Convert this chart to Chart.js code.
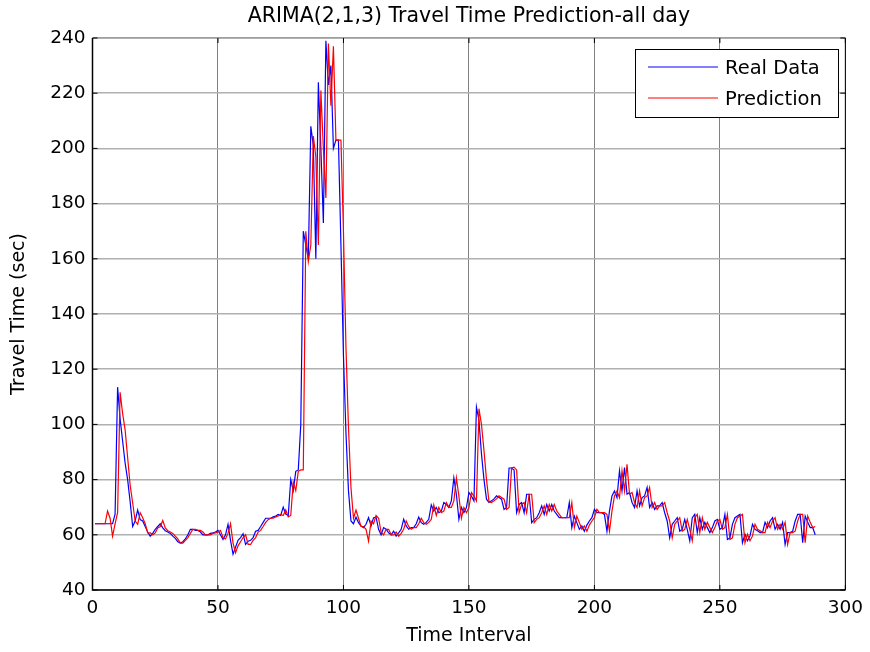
<!DOCTYPE html>
<html lang="en">
<head>
    <meta charset="UTF-8">
    <title>ARIMA(2,1,3) Travel Time Prediction</title>
    <style>
        body { margin: 0; background: #fff; }
    </style>
</head>
<body>
    <canvas id="myChart" width="870" height="652"></canvas>

    <script src="https://cdn.jsdelivr.net/npm/chart.js"></script>

    <script>
        // Travel time per 5-minute interval (288 per day)
        const realData = [
            64,64,64,64,64,64,64,64,67.5,113.5,
            102,94,86,80,72,63,65,69,65.5,65,
            63,61,59.5,60.5,62,63,64,62.5,61.5,61,
            60.5,59.5,58.7,57.5,57,57.5,58.5,60,62,62,
            61.6,61.6,61,60,60,60,60.5,60.7,61,61.6,
            60,58.3,60,63.8,58,53,55.5,58,59,60.4,
            56.5,57.7,58,59,61.3,61.6,63,64.5,66,66,
            66,66.5,66.8,67.4,67,70,67.5,67,80,76,
            83,83.5,100,170,165,160,208,201,160,224,
            200,173,239,223,230,200,203,203,165,125,
            97,76,65,64,66.4,64.4,63.2,62.6,63.8,66.2,
            63.2,66.2,66.4,62,60,62.6,62,60.7,60,61.3,
            59.5,60.7,62,65.6,63.2,62,62.6,62.6,64,66.4,
            64.4,63.8,64.5,65.6,70.8,68.6,69.9,68,68.6,71.7,
            71,69.9,72.3,80.6,74.7,65.6,69.9,68,69.9,75.3,
            74,72.3,106.3,101.5,89.3,80,72.9,71.7,72.3,73,
            74.1,73.5,72.9,69.2,69.9,84.2,84.2,83.5,68,71,
            71.7,68,74.7,74.7,64.4,65.6,66.2,68,70.5,67.4,
            71,68.6,71,68.6,67.4,66.2,66.2,66.2,66.2,71.7,
            62.6,66.8,64.4,62,63.2,61.3,63.5,65,66.2,69.2,
            68,68,68,67.4,61.3,68.6,74.1,75.9,73.5,83.2,
            75.9,84.4,74.7,75.3,71.7,69.9,75.9,70.5,73.5,74.1,
            77.2,69.9,71.7,69.2,70.5,70.5,71.7,68,65,58.9,
            63.8,65,66.2,61.3,62,65.6,62,57.8,66.2,67.4,
            60.8,66.2,62,64.5,62.6,60.8,62.6,65,65.6,62,
            62.6,67.4,58.3,58.9,63.8,66.2,66.8,67.4,57.1,60.2,
            57.8,59.6,63.8,62,61.5,60.8,60.8,64.5,62.6,65,
            66.2,62,63.8,62,64.5,56.5,60.8,60.8,61.3,65,
            67.4,67.4,57.1,66.8,64.5,62.6,62.6,60
        ];

        const predData = [
            64,64,64,64,64,68.6,66,59.5,64,68,
            111.6,104,98,88,78,71.6,65,63.8,68,66.2,
            64,60.7,60.7,60,60.7,62.5,63,65.2,62.5,61.5,
            61,60.5,59.5,58.5,57,57,58,59,60.5,62,
            62,61.6,61.6,61,60,60,60,60.5,60.7,61,
            61.6,59,58.5,60.5,64,57,53.5,56,57.5,59,
            60,56.5,56.5,58,59,61,61.6,63,64.5,65.5,
            66,66,66.5,66.8,67.4,67,69,66.5,67,79,
            76,83,83.5,83.5,170,159,165,204.5,197,165,
            221,200,182,238,215.5,237,203,203,203,170,
            128,99,77,66,69,66,63,63,62,57.7,
            65,64,67,66,61,60,62,62,60,60,
            61,59.5,60.5,62,65,63,62,62.6,62.6,64,
            66,64.4,63.8,64.5,65.6,70.8,67,69.9,68,68.6,
            71.7,70,69.9,72.3,80.6,74,66,69.9,68,69.9,
            75.3,74,72.3,105.7,100,90.5,80,72,71.7,72.3,
            73,74.1,73.5,72.9,69.2,69.9,84.2,84.5,83.5,68,
            71,71.7,68,74.7,74.7,64.4,65.6,66.2,68,70.5,
            67.4,71,68.6,71,68.6,67.4,66.2,66.2,66.2,66.2,
            71.7,62.6,66.8,64.4,62,63.2,61.3,63.5,65,66.2,
            69.2,68,68,68,67.4,61.3,68.6,74.1,75.9,73.5,
            83.2,75.9,85.5,74.7,75.3,71.7,69.9,75.9,70.5,73.5,
            74.1,77.2,69.9,71.7,69.2,70.5,70.5,71.7,68,65,
            58.9,63.8,65,66.2,61.3,62,65.6,62,57.8,66.2,
            67.4,60.8,66.2,62,64.5,62.6,60.8,62.6,65,65.6,
            62,62.6,67.4,58.3,58.9,63.8,66.2,66.8,67.4,57.1,
            60.2,57.8,59.6,63.8,62,61.5,60.8,60.8,64.5,62.6,
            65,66.2,62,63.8,62,64.5,56.5,60.8,60.8,61.3,
            65,67.4,67.4,57.1,66.8,64.5,62.6,63
        ];

        // interval numbers 1..288 on the x axis
        const intervals = realData.map((v, i) => i + 1);

        const xTicks = [0, 50, 100, 150, 200, 250, 300];
        const yTicks = [40, 60, 80, 100, 120, 140, 160, 180, 200, 220, 240];

        const chartTitle = 'ARIMA(2,1,3) Travel Time Prediction-all day';
        const fontName = '"DejaVu Sans", "Liberation Sans", Arial, sans-serif';

        // white page, matlab style box with inward ticks, title and boxed legend
        const matlabFrame = {
            id: 'matlabFrame',
            beforeDraw(chart) {
                const c = chart.ctx;
                c.save();
                c.fillStyle = '#fff';
                c.fillRect(0, 0, chart.width, chart.height);
                c.restore();
            },
            afterDraw(chart) {
                const c = chart.ctx;
                const a = chart.chartArea;
                const xs = chart.scales.x, ys = chart.scales.y;
                c.save();

                // box: top edge sits on the 240 grid line and reads grey
                c.lineWidth = 1;
                c.strokeStyle = '#8c8c8c';
                c.beginPath();
                c.moveTo(a.left, a.top); c.lineTo(a.right, a.top);
                c.stroke();
                c.strokeStyle = '#000';
                c.beginPath();
                c.moveTo(a.right, a.top); c.lineTo(a.right, a.bottom);
                c.stroke();
                c.lineWidth = 1.5;
                c.beginPath();
                c.moveTo(a.left, a.top); c.lineTo(a.left, a.bottom); c.lineTo(a.right, a.bottom);
                c.stroke();

                // inward tick marks
                c.lineWidth = 1;
                c.beginPath();
                yTicks.forEach(v => {
                    const y = ys.getPixelForValue(v);
                    c.moveTo(a.left, y); c.lineTo(a.left + 5, y);
                    c.moveTo(a.right, y); c.lineTo(a.right - 5, y);
                });
                xTicks.forEach(v => {
                    const x = xs.getPixelForValue(v);
                    c.moveTo(x, a.bottom); c.lineTo(x, a.bottom - 5);
                    c.moveTo(x, a.top); c.lineTo(x, a.top + 5);
                });
                c.stroke();

                // title
                c.fillStyle = '#000';
                c.font = '20.5px ' + fontName;
                c.textAlign = 'center';
                c.textBaseline = 'middle';
                c.fillText(chartTitle, (a.left + a.right) / 2, 16.5);

                // legend
                const lx = 635.5, ly = 49.5, lw = 203, lh = 68;
                c.fillStyle = '#fff';
                c.fillRect(lx, ly, lw, lh);
                c.strokeStyle = '#000';
                c.lineWidth = 1;
                c.strokeRect(lx, ly, lw, lh);
                c.font = '19.5px ' + fontName;
                const rows = [67, 98];
                chart.data.datasets.forEach((ds, i) => {
                    c.strokeStyle = ds.borderColor;
                    c.beginPath();
                    c.moveTo(648, rows[i]); c.lineTo(718, rows[i]);
                    c.stroke();
                    c.fillStyle = '#000';
                    c.textAlign = 'left';
                    c.fillText(ds.label, 725, rows[i] + 2);
                });
                c.restore();
            }
        };

        const ctx = document.getElementById('myChart');

        new Chart(ctx, {
            type: 'line',
            data: {
                labels: intervals,
                datasets: [{
                    label: 'Real Data',
                    data: realData,
                    borderColor: '#0000ff',
                    borderWidth: 1.2,
                    pointRadius: 0,
                    order: 1
                }, {
                    label: 'Prediction',
                    data: predData,
                    borderColor: '#ff0000',
                    borderWidth: 1.2,
                    pointRadius: 0,
                    order: 0
                }]
            },
            options: {
                responsive: false,
                animation: false,
                layout: { padding: { top: 38, right: 23.5, left: 0, bottom: 0 } },
                plugins: {
                    legend: { display: false },
                    tooltip: { enabled: false }
                },
                scales: {
                    x: {
                        type: 'linear',
                        min: 0,
                        max: 300,
                        afterFit: s => { s.height = 62; },
                        afterBuildTicks: s => { s.ticks = xTicks.map(v => ({ value: v })); },
                        ticks: {
                            color: '#000',
                            padding: 7,
                            maxRotation: 0,
                            font: { family: fontName, size: 18.5 }
                        },
                        grid: { color: '#808080', lineWidth: 1, drawTicks: false },
                        border: { display: false },
                        title: {
                            display: true,
                            text: 'Time Interval',
                            color: '#000',
                            padding: { top: 0, bottom: 5 },
                            font: { family: fontName, size: 19 }
                        }
                    },
                    y: {
                        min: 40,
                        max: 240,
                        afterFit: s => { s.width = 92.5; },
                        afterBuildTicks: s => { s.ticks = yTicks.map(v => ({ value: v })); },
                        ticks: {
                            color: '#000',
                            padding: 7,
                            font: { family: fontName, size: 18.5 }
                        },
                        grid: { color: '#b0b0b0', lineWidth: 1.5, drawTicks: false },
                        border: { display: false },
                        title: {
                            display: true,
                            text: 'Travel Time (sec)',
                            color: '#000',
                            padding: { top: 8, bottom: 0 },
                            font: { family: fontName, size: 19 }
                        }
                    }
                }
            },
            plugins: [matlabFrame]
        });
    </script>
</body>
</html>
